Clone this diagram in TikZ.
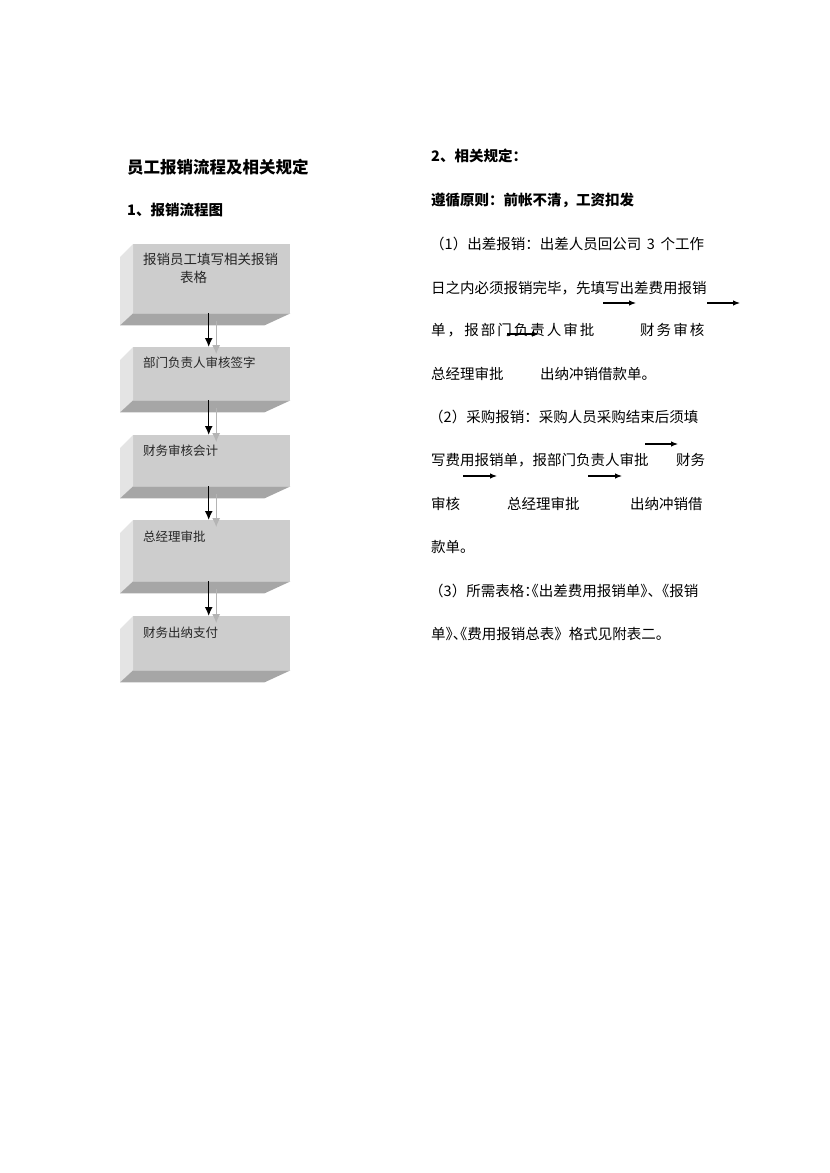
\documentclass[tikz,border=0pt]{standalone}
\usepackage{fontspec}
\setmainfont{Noto Sans CJK SC}
\usetikzlibrary{arrows.meta}
\definecolor{facegray}{HTML}{CDCDCD}
\definecolor{bandgray}{HTML}{A6A6A6}
\definecolor{sidegray}{HTML}{E4E4E4}
\definecolor{ghostgray}{HTML}{B4B4B4}
\newcommand\hw[1]{{\addfontfeature{RawFeature=+halt}#1}}
\newcommand\wide[1]{{\addfontfeature{LetterSpace=14}#1}}
\tikzset{
  face/.style={fill=facegray,minimum width=157pt,minimum height=#1,inner sep=0pt,anchor=north west},
  txt/.style={anchor=base west,inner sep=0pt,font=\fontsize{14.5}{17}\selectfont},
  boxtxt/.style={anchor=base west,inner sep=0pt,font=\fontsize{12.5}{15}\selectfont,text=black!85},
  head/.style={anchor=base west,inner sep=0pt,font=\bfseries\fontsize{14.5}{17}\selectfont},
  flow/.style={-{Latex[length=9pt,width=8pt]},line width=1.4pt},
  ghost/.style={flow,draw=ghostgray,line width=1pt},
  ptr/.style={-{Latex[length=7pt,width=5.5pt]},line width=1.1pt}
}
\begin{document}
\begin{tikzpicture}[x=1pt,y=-1pt]
        \useasboundingbox (0,0) rectangle (830,1173);
        % left column: headings
        \node[head,font=\bfseries\fontsize{16.5}{19}\selectfont] (title) at (127,173.5) {员工报销流程及相关规定};
        \node[head] (sec1) at (127,215.5) {1、报销流程图};
        % boxes
        \node[face=69pt] (bx1) at (133,244) {};
        \fill[sidegray] (bx1.north west) -- ++(-13,13) -- ([shift={(-13,12)}]bx1.south west) -- (bx1.south west) -- cycle;
        \fill[bandgray] (bx1.south west) -- (bx1.south east) -- ++(-26,12) -- ([shift={(-13,12)}]bx1.south west) -- cycle;
        \node[face=53pt] (bx2) at (133,347) {};
        \fill[sidegray] (bx2.north west) -- ++(-13,13) -- ([shift={(-13,12)}]bx2.south west) -- (bx2.south west) -- cycle;
        \fill[bandgray] (bx2.south west) -- (bx2.south east) -- ++(-26,12) -- ([shift={(-13,12)}]bx2.south west) -- cycle;
        \node[face=51pt] (bx3) at (133,435) {};
        \fill[sidegray] (bx3.north west) -- ++(-13,13) -- ([shift={(-13,12)}]bx3.south west) -- (bx3.south west) -- cycle;
        \fill[bandgray] (bx3.south west) -- (bx3.south east) -- ++(-26,12) -- ([shift={(-13,12)}]bx3.south west) -- cycle;
        \node[face=61pt] (bx4) at (133,520) {};
        \fill[sidegray] (bx4.north west) -- ++(-13,13) -- ([shift={(-13,12)}]bx4.south west) -- (bx4.south west) -- cycle;
        \fill[bandgray] (bx4.south west) -- (bx4.south east) -- ++(-26,12) -- ([shift={(-13,12)}]bx4.south west) -- cycle;
        \node[face=54pt] (bx5) at (133,616) {};
        \fill[sidegray] (bx5.north west) -- ++(-13,13) -- ([shift={(-13,12)}]bx5.south west) -- (bx5.south west) -- cycle;
        \fill[bandgray] (bx5.south west) -- (bx5.south east) -- ++(-26,12) -- ([shift={(-13,12)}]bx5.south west) -- cycle;
        % box texts
        \node[boxtxt,font=\fontsize{13.5}{16}\selectfont] (t1) at (143,264) {报销员工填写相关报销};
        \node[boxtxt,font=\fontsize{13.5}{16}\selectfont] (t1b) at (180,282) {表格};
        \node[boxtxt] (t2) at (143,367.5) {部门负责人审核签字};
        \node[boxtxt] (t3) at (143,455) {财务审核会计};
        \node[boxtxt] (t4) at (143,541) {总经理审批};
        \node[boxtxt] (t5) at (143,637) {财务出纳支付};
        % shadow arrows, then arrows
        \draw[ghost] ([shift={(4.5,8)}]bx1.south) -- ([shift={(4.5,7)}]bx2.north);
        \draw[ghost] ([shift={(4.5,8)}]bx2.south) -- ([shift={(4.5,7)}]bx3.north);
        \draw[ghost] ([shift={(4.5,8)}]bx3.south) -- ([shift={(4.5,7)}]bx4.north);
        \draw[ghost] ([shift={(4.5,8)}]bx4.south) -- ([shift={(4.5,7)}]bx5.north);
        \draw[flow] ([xshift=-3pt]bx1.south) -- ([xshift=-3pt]bx2.north);
        \draw[flow] ([xshift=-3pt]bx2.south) -- ([xshift=-3pt]bx3.north);
        \draw[flow] ([xshift=-3pt]bx3.south) -- ([xshift=-3pt]bx4.north);
        \draw[flow] ([xshift=-3pt]bx4.south) -- ([xshift=-3pt]bx5.north);
        % right column
        \node[head] (sec2) at (431,161.5) {2、相关规定：};
        \node[head] (rule) at (431,205.5) {遵循原则：前帐不清，工资扣发};
        \node[txt] (l1) at (430,249) {（1）出差报销：出差人员回公司 \,3\, 个工作};
        \node[txt] (l2) at (431,293.5) {日之内必须报销完毕，先填写出差费用报销};
        \node[txt] (l3a) at (431,335.5) {\wide{单，报部门负责人审批}};
        \node[txt] (l3b) at (640,335.5) {\wide{财务审核}};
        \node[txt] (l4a) at (431,379) {总经理审批};
        \node[txt] (l4b) at (540,379) {出纳冲销借款单。};
        \node[txt] (l5) at (429,422) {（2）采购报销：采购人员采购结束后须填};
        \node[txt] (l6a) at (431,465.5) {写费用报销单，报部门负责人审批};
        \node[txt] (l6b) at (676,465.5) {财务};
        \node[txt] (l7a) at (431,509) {审核};
        \node[txt] (l7b) at (507,509) {总经理审批};
        \node[txt] (l7c) at (630,509) {出纳冲销借};
        \node[txt] (l8) at (431,552.5) {款单。};
        \node[txt] (l9) at (429,596.5) {（3）所需表格\hw{：《}出差费用报销单\hw{》、}《报销};
        \node[txt] (l10) at (431,639.5) {单\hw{》、《}费用报销总表》格式见附表二。};
        % small arrows between the steps
        \coordinate (p1s) at (603,303); \coordinate (p1e) at (636,303);
        \coordinate (p2s) at (707,303); \coordinate (p2e) at (740,303);
        \coordinate (p3s) at (507,334); \coordinate (p3e) at (539,334);
        \coordinate (p4s) at (645,444); \coordinate (p4e) at (678,444);
        \coordinate (p5s) at (463,476); \coordinate (p5e) at (497,476);
        \coordinate (p6s) at (588,476); \coordinate (p6e) at (622,476);
        \draw[ptr] (p1s) -- (p1e);
        \draw[ptr] (p2s) -- (p2e);
        \draw[ptr] (p3s) -- (p3e);
        \draw[ptr] (p4s) -- (p4e);
        \draw[ptr] (p5s) -- (p5e);
        \draw[ptr] (p6s) -- (p6e);
\end{tikzpicture}
\end{document}
